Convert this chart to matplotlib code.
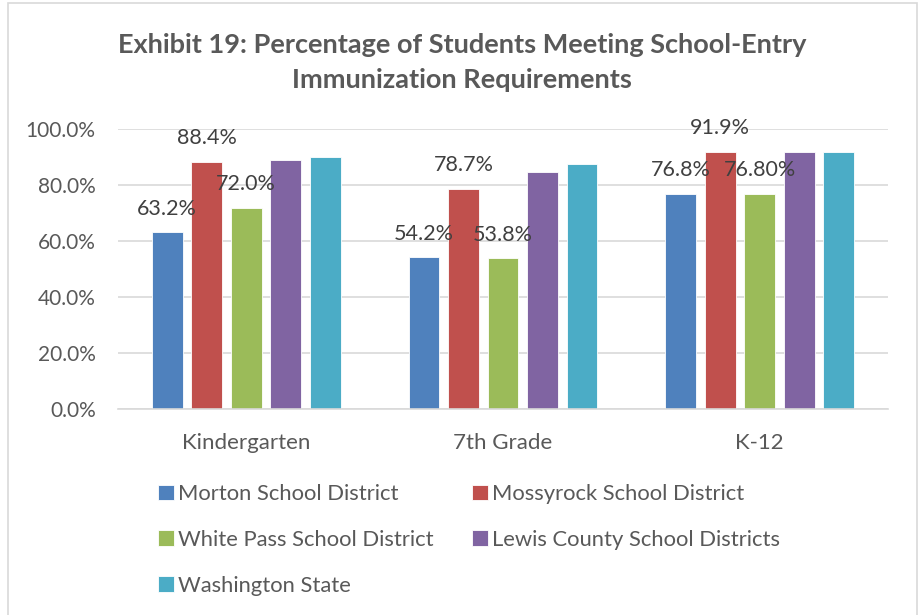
import numpy as np
import matplotlib.pyplot as plt
from matplotlib.patches import Rectangle

# Exhibit 19 - immunization requirements by grade group

categories = ['Kindergarten', '7th Grade', 'K-12']
series = ['Morton School District', 'Mossyrock School District',
          'White Pass School District', 'Lewis County School Districts',
          'Washington State']
morton = [63.2, 54.2, 76.8]
mossyrock = [88.4, 78.7, 91.9]
white_pass = [72.0, 53.8, 76.8]
lewis = [88.8, 84.6, 91.9]
washington = [90.0, 87.6, 91.8]

# data labels as printed in the original (only first three districts labelled)
morton_labels = ['63.2%', '54.2%', '76.8%']
mossyrock_labels = ['88.4%', '78.7%', '91.9%']
white_pass_labels = ['72.0%', '53.8%', '76.80%']

colors = ['#4F81BD', '#C0504D', '#9BBB59', '#8064A2', '#4BACC6']
values = [morton, mossyrock, white_pass, lewis, washington]
labels = [morton_labels, mossyrock_labels, white_pass_labels, None, None]

plt.rcParams['font.family'] = ['Lato', 'DejaVu Sans']

fig = plt.figure(figsize=(9.18, 6.15), dpi=100)
ax = fig.add_axes([0.1285, 0.335, 0.8388, 0.455])

x = np.arange(len(categories))
width = 0.12
step = 0.154
bars = []
for i, (vals, col) in enumerate(zip(values, colors)):
    pos = x + (i - 2) * step
    b = ax.bar(pos, vals, width, color=col, edgecolor='white', linewidth=0.6,
               label=series[i], zorder=2)
    bars.append(b)
    if labels[i] is not None:
        for p, v, t in zip(pos, vals, labels[i]):
            ax.annotate(t, (p, v), xytext=(0, 17), textcoords='offset points',
                        ha='center', va='center', fontsize=15.5, color='#404040',
                        zorder=5)

ax.set_ylim(0, 100)
ax.set_xlim(-0.5, 2.5)
ax.set_yticks(np.arange(0, 101, 20))
ax.set_yticklabels(['%.1f%%' % v for v in np.arange(0, 101, 20)])
ax.set_xticks(x)
ax.set_xticklabels(categories)
ax.yaxis.grid(True, color='#D9D9D9', linewidth=1.2, zorder=0)
ax.set_axisbelow(True)
for s in ['top', 'right', 'left']:
    ax.spines[s].set_visible(False)
ax.spines['bottom'].set_color('#D9D9D9')
ax.spines['bottom'].set_linewidth(1.2)
ax.tick_params(axis='both', length=0, labelsize=15, labelcolor='#595959')
ax.tick_params(axis='x', labelsize=16, pad=17)
ax.tick_params(axis='y', pad=16)

fig.suptitle('Exhibit 19: Percentage of Students Meeting School-Entry\nImmunization Requirements',
             x=0.503, y=0.946, fontsize=19.5, fontweight='bold', color='#595959',
             linespacing=1.55)

# legend filled column-wise, reorder so it reads row-wise
order = [0, 2, 4, 1, 3]
leg = fig.legend([bars[i] for i in order], [series[i] for i in order],
                 loc='upper left', bbox_to_anchor=(0.163, 0.227), ncol=2,
                 frameon=False, fontsize=15.8, handlelength=0.7, handleheight=0.7,
                 handletextpad=0.2, columnspacing=1.75, labelspacing=1.17,
                 borderaxespad=0)
for t in leg.get_texts():
    t.set_color('#595959')

# chart border
fig.add_artist(Rectangle((8 / 918, -0.01), 909 / 918, 1 - 3 / 615 + 0.01,
                         transform=fig.transFigure, fill=False,
                         edgecolor='#D9D9D9', linewidth=1.2))

fig.savefig('out.png', dpi=100)
